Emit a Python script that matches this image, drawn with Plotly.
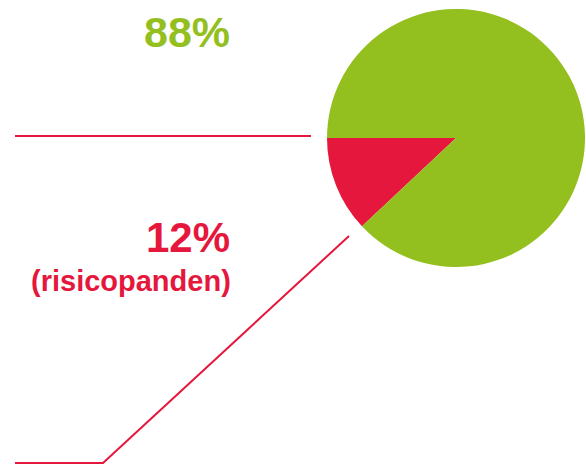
import plotly.graph_objects as go

labels = ["risicopanden", "overig"]
values = [12, 88]
colors = ["#E5173C", "#93C01F"]
text_big = ["12%", "88%"]
sub_label = "(risicopanden)"

W, H = 586, 470

def px(x):
    return x / W

def py(y):
    return 1 - y / H

fig = go.Figure(go.Pie(
    labels=labels, values=values, sort=False, direction="clockwise",
    rotation=270 - 360 * values[0] / sum(values),
    marker=dict(colors=colors, line=dict(width=0)),
    textinfo="none", hoverinfo="label+percent", showlegend=False,
    domain=dict(x=[px(327), px(585)], y=[py(267), py(9)]),
))

line_col = colors[0]
shapes = [
    dict(type="line", xref="paper", yref="paper", x0=px(15), y0=py(136), x1=px(311), y1=py(136),
         line=dict(color=line_col, width=2)),
    dict(type="path", xref="paper", yref="paper",
         path=f"M {px(15)} {py(463)} L {px(103)} {py(463)} L {px(349)} {py(236)}",
         line=dict(color=line_col, width=2)),
]

font_family = "Liberation Sans, Arial, sans-serif"
annotations = [
    dict(text=f"<b>{text_big[1]}</b>", x=px(232), y=py(32), xref="paper", yref="paper",
         xanchor="right", yanchor="middle", showarrow=False,
         font=dict(family=font_family, size=43, color=colors[1])),
    dict(text=f"<b>{text_big[0]}</b>", x=px(232), y=py(238), xref="paper", yref="paper",
         xanchor="right", yanchor="middle", showarrow=False,
         font=dict(family=font_family, size=42, color=colors[0])),
    dict(text=f"<b>{sub_label}</b>", x=px(233), y=py(281), xref="paper", yref="paper",
         xanchor="right", yanchor="middle", showarrow=False,
         font=dict(family=font_family, size=29, color=colors[0])),
]

fig.update_layout(
    width=W, height=H, margin=dict(l=0, r=0, t=0, b=0),
    paper_bgcolor="white", plot_bgcolor="white",
    shapes=shapes, annotations=annotations,
)

fig.write_html("out.html", config={"displayModeBar": False},
               post_script="document.body.style.margin='0px';")
